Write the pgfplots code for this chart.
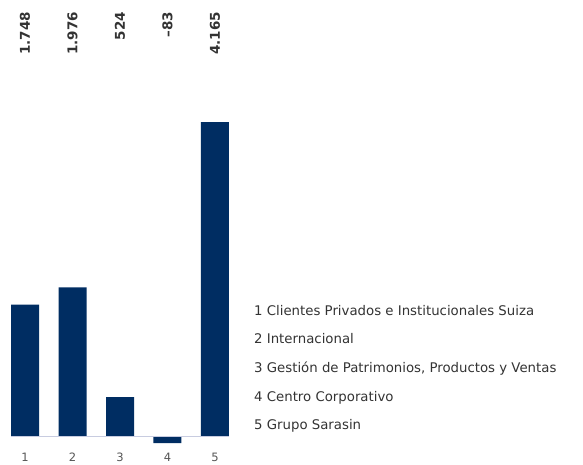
\documentclass[border=0pt]{standalone}
\usepackage{fontspec}
\setmainfont{DejaVu Sans}
\usepackage{pgfplots}
\pgfplotsset{compat=1.18}
\definecolor{navy}{HTML}{002D62}
\definecolor{basecol}{HTML}{C8CCE0}
\definecolor{txt}{HTML}{333333}
\definecolor{tick}{HTML}{555555}
\tikzset{vlab/.style={rotate=90, anchor=east, font=\bfseries\fontsize{13.5}{15}\selectfont, text=txt, inner sep=0pt},
 tlab/.style={anchor=base, font=\fontsize{11.5}{12}\selectfont, text=tick, inner sep=0pt}}
\begin{document}
\begin{tikzpicture}[x=1pt,y=1pt]
\path[use as bounding box] (0,0) rectangle (583,464);
\begin{axis}[
  at={(11pt,21pt)}, anchor=south west,
  scale only axis, width=218pt, height=321pt,
  xmin=0.705, xmax=5.295, ymin=-83, ymax=4165,
  axis lines=none, clip=false,
  xtick=\empty, ytick=\empty,
]
\addplot[ybar, bar width=28pt, fill=navy, draw=none] coordinates {(1,1748) (2,1976) (3,524) (4,-83) (5,4165)};
\draw[basecol, line width=1.2pt] (axis cs:0.705,0) -- (axis cs:5.295,0);
\node[vlab] at ([yshift=110pt]axis cs:1,4165) {1.748};
\node[vlab] at ([yshift=110pt]axis cs:2,4165) {1.976};
\node[vlab] at ([yshift=110pt]axis cs:3,4165) {524};
\node[vlab] at ([yshift=110pt]axis cs:4,4165) {–83};
\node[vlab] at ([yshift=110pt]axis cs:5,4165) {4.165};
\node[tlab] at ([yshift=-18.8pt]axis cs:1,-83) {1};
\node[tlab] at ([yshift=-18.8pt]axis cs:2,-83) {2};
\node[tlab] at ([yshift=-18.8pt]axis cs:3,-83) {3};
\node[tlab] at ([yshift=-18.8pt]axis cs:4,-83) {4};
\node[tlab] at ([yshift=-18.8pt]axis cs:5,-83) {5};
\end{axis}
\begin{scope}[every node/.style={anchor=base west, inner sep=0pt, text=txt, font=\fontsize{13.3}{15}\selectfont}]
\node at (254,149) {1 Clientes Privados e Institucionales Suiza};
\node at (254,120.3) {2 Internacional};
\node at (254,91.6) {3 Gestión de Patrimonios, Productos y Ventas};
\node at (254,62.9) {4 Centro Corporativo};
\node at (254,34.2) {5 Grupo Sarasin};
\end{scope}
\end{tikzpicture}
\end{document}
